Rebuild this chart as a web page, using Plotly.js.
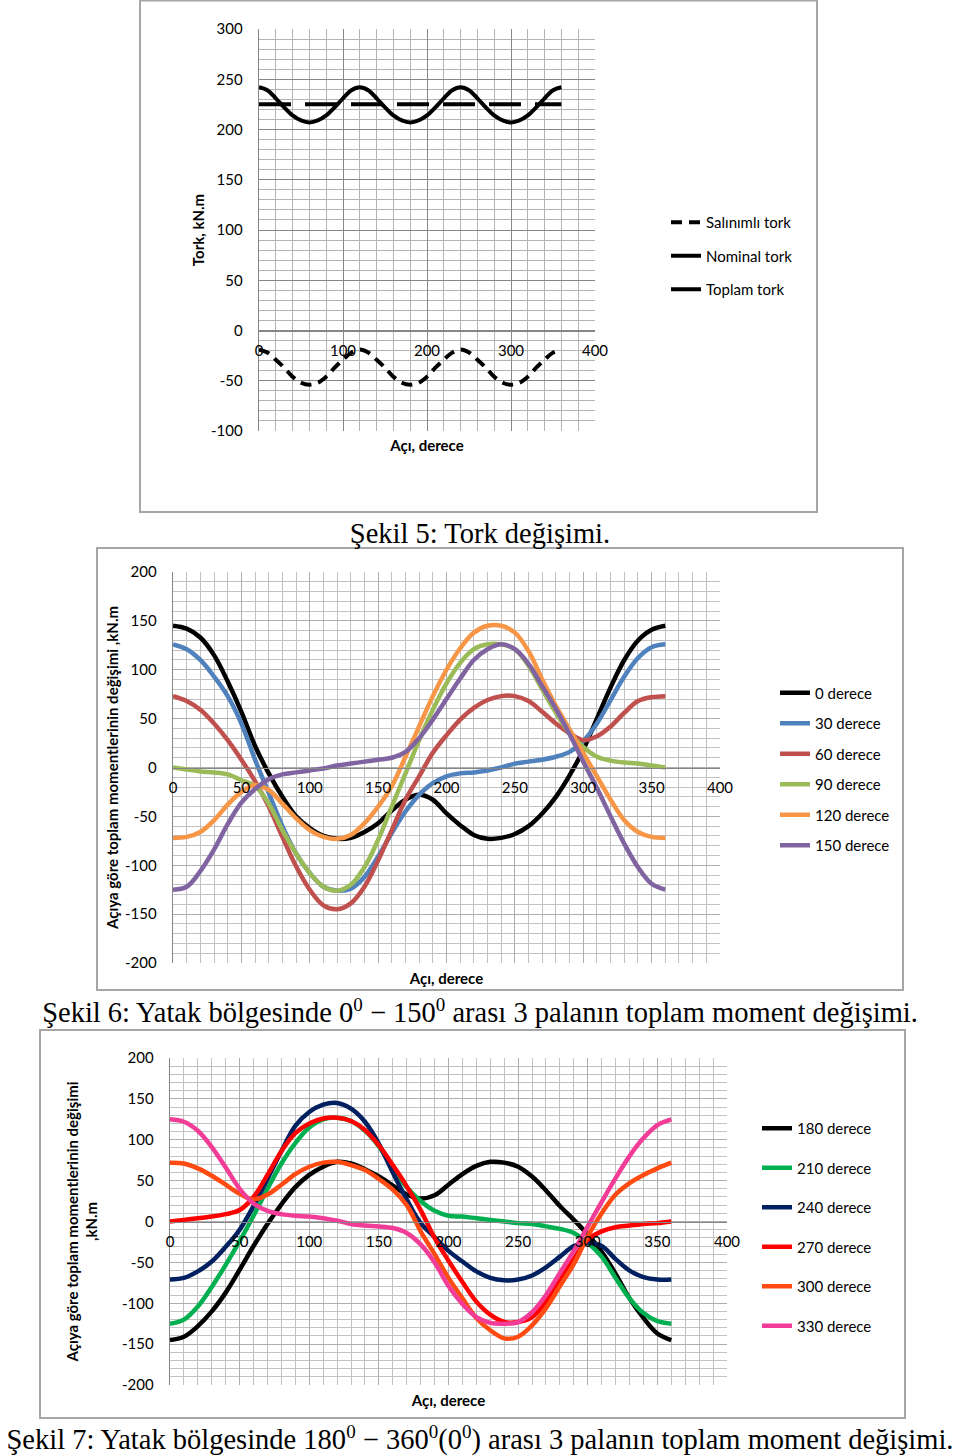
<!DOCTYPE html>
<html>
<head>
<meta charset="utf-8">
<script src="https://cdn.plot.ly/plotly-3.0.1.min.js"></script>
<style>
html,body{margin:0;padding:0;background:#fff;}
#wrap{position:relative;width:960px;height:1456px;overflow:hidden;}
#chart{position:absolute;left:0;top:0;width:960px;height:1456px;}
.cap{position:absolute;left:0;width:960px;text-align:center;white-space:nowrap;
  font-family:'Liberation Serif','DejaVu Serif',serif;font-size:28.5px;line-height:32px;color:#000;}
.cap sup{font-size:19px;line-height:0;vertical-align:0;position:relative;top:-11px;}
</style>
</head>
<body>
<div id="wrap">
<div id="chart"></div>
<div class="cap" id="cap5" style="top:518px"></div>
<div class="cap" id="cap6" style="top:997px"></div>
<div class="cap" id="cap7" style="top:1424px"></div>
</div>
<script>
// ---------- DATA ----------
const theta = [0,10,20,30,40,50,60,70,80,90,100,110,120,130,140,150,160,170,180,190,200,210,220,230,240,250,260,270,280,290,300,310,320,330,340,350,360];

// Şekil 5
const torkNames = ["Salınımlı tork", "Nominal tork", "Toplam tork"];
const salinimliTork = [-19,-22,-29,-37,-46,-52,-54,-52,-46,-37,-29,-22,-19,-22,-29,-37,-46,-52,-54,-52,-46,-37,-29,-22,-19,-22,-29,-37,-46,-52,-54,-52,-46,-37,-29,-22,-19];
const nominalTork = [225,225,225,225,225,225,225,225,225,225,225,225,225,225,225,225,225,225,225,225,225,225,225,225,225,225,225,225,225,225,225,225,225,225,225,225,225];
const toplamTork = [242,239,231,222,214,209,207,209,214,222,231,239,242,239,231,222,214,209,207,209,214,222,231,239,242,239,231,222,214,209,207,209,214,222,231,239,242];

// Şekil 6
const names6 = ["0 derece","30 derece","60 derece","90 derece","120 derece","150 derece"];
const m0   = [145,142,133,115,88,57,22,-6,-30,-50,-62,-70,-73,-72,-66,-57,-44,-33,-28,-33,-47,-59,-69,-73,-72,-68,-60,-47,-30,-8,18,50,82,110,130,141,145];
const m30  = [126,121,110,93,73,45,8,-26,-60,-88,-108,-122,-126,-124,-112,-91,-67,-45,-28,-16,-9,-6,-5,-3,0,4,6,8,11,16,27,45,69,93,112,123,126];
const m60  = [73,68,59,45,28,8,-14,-40,-71,-101,-125,-141,-145,-139,-122,-95,-64,-33,-9,15,33,49,61,69,73,73,68,57,45,35,28,32,42,56,68,72,73];
const m90  = [0,-2,-4,-5,-7,-13,-19,-37,-64,-88,-108,-122,-126,-120,-102,-74,-40,-6,28,59,86,107,121,126,126,121,104,80,56,35,21,11,7,5,4,2,0];
const m120 = [-72,-71,-66,-54,-38,-25,-18,-23,-37,-52,-64,-71,-73,-69,-57,-40,-19,11,42,73,100,122,138,145,145,138,119,90,63,39,15,-9,-33,-54,-66,-71,-72];
const m150 = [-125,-122,-106,-84,-58,-36,-22,-12,-7,-5,-3,-1,2,4,6,8,10,16,30,49,70,91,110,121,126,121,106,83,60,34,6,-21,-50,-78,-102,-119,-125];

// Şekil 7
const names7 = ["180 derece","210 derece","240 derece","270 derece","300 derece","330 derece"];
const m180 = [-145,-141,-128,-110,-87,-59,-30,-3,21,42,57,67,73,71,64,55,44,33,28,32,45,58,68,73,72,67,55,38,19,2,-16,-37,-64,-94,-118,-137,-145];
const m210 = [-125,-120,-104,-80,-53,-24,7,40,71,96,115,125,127,123,111,92,65,42,25,13,7,6,4,2,0,-2,-3,-6,-9,-14,-26,-43,-69,-94,-112,-122,-125];
const m240 = [-71,-69,-61,-49,-31,-10,19,52,86,117,134,143,145,138,122,95,60,27,-2,-19,-36,-49,-61,-69,-72,-71,-66,-56,-43,-30,-26,-30,-46,-60,-68,-71,-71];
const m270 = [0,2,4,6,9,14,30,57,86,108,120,126,127,123,112,93,69,43,14,-20,-48,-74,-98,-114,-123,-123,-117,-98,-72,-46,-22,-12,-7,-5,-3,-2,0];
const m300 = [72,71,65,56,45,34,27,33,45,58,67,72,73,69,63,52,39,20,-12,-40,-69,-94,-118,-133,-143,-141,-127,-106,-79,-52,-18,10,33,47,57,65,72];
const m330 = [125,122,111,91,66,40,22,13,9,7,6,4,1,-3,-5,-6,-8,-14,-28,-50,-79,-101,-117,-124,-125,-123,-111,-90,-63,-36,-6,24,53,80,102,118,125];

// tick values and labels
const xTicks5 = [0,100,200,300,400];
const xTickText5 = ["0","100","200","300","400"];
const yTicks5 = [-100,-50,0,50,100,150,200,250,300];
const yTickText5 = ["-100","-50","0","50","100","150","200","250","300"];
const xTicks67 = [0,50,100,150,200,250,300,350,400];
const xTickText67 = ["0","50","100","150","200","250","300","350","400"];
const yTicks67 = [-200,-150,-100,-50,0,50,100,150,200];
const yTickText67 = ["-200","-150","-100","-50","0","50","100","150","200"];

const xTitle = "Açı, derece";
const yTitle5 = "Tork, kN.m";
const yTitle6 = "Açıya göre toplam momentlerinin değişimi ,kN.m";
const yTitle7 = "Açıya göre toplam momentlerinin değişimi<br>,kN.m";
const caption5 = "Şekil 5: Tork değişimi.";
const caption6 = "Şekil 6: Yatak bölgesinde 0<sup>0</sup> − 150<sup>0</sup> arası 3 palanın toplam moment değişimi.";
const caption7 = "Şekil 7: Yatak bölgesinde 180<sup>0</sup> − 360<sup>0</sup>(0<sup>0</sup>) arası 3 palanın toplam moment değişimi.";

document.getElementById("cap5").innerHTML = caption5;
document.getElementById("cap6").innerHTML = caption6;
document.getElementById("cap7").innerHTML = caption7;

// ---------- STYLE / LAYOUT ----------
const W = 960, H = 1456;
const px = v => v / W;
const py = v => 1 - v / H;
const FONT = "Lato, 'Open Sans', sans-serif";

const colors6 = ["#000000","#4f81bd","#c0504d","#9bbb59","#f79646","#8064a2"];
const colors7 = ["#000000","#00b050","#002060","#ff0000","#ff4a12","#f23d98"];

const traces = [];
const torkData = [salinimliTork, nominalTork, toplamTork];
const torkDash = ["11px,7px", "32px,14px", "solid"];
torkData.forEach((d, i) => traces.push({
  type: "scatter", mode: "lines", x: theta, y: d, name: torkNames[i],
  xaxis: "x", yaxis: "y", legend: "legend", legendgroup: "a" + i,
  line: {color: "#000", width: 4, dash: torkDash[i], shape: "spline"}
}));
[m0, m30, m60, m90, m120, m150].forEach((d, i) => traces.push({
  type: "scatter", mode: "lines", x: theta, y: d, name: names6[i],
  xaxis: "x2", yaxis: "y2", legend: "legend2", legendgroup: "b" + i,
  line: {color: colors6[i], width: 4.5, shape: "spline"}
}));
[m180, m210, m240, m270, m300, m330].forEach((d, i) => traces.push({
  type: "scatter", mode: "lines", x: theta, y: d, name: names7[i],
  xaxis: "x3", yaxis: "y3", legend: "legend3", legendgroup: "c" + i,
  line: {color: colors7[i], width: 4.5, shape: "spline"}
}));

const titleFont = {family: FONT, size: 15, color: "#000", weight: "bold"};

function axes(xd, yd, xr, yr, xtv, xtt, xmin, ytv, ytt, ymin, major, minor, yAnchor, xt, xso, yt, yso) {
  const yDom = [py(yd[1]), py(yd[0])];
  const pos = yDom[0] + (0 - yr[0]) / (yr[1] - yr[0]) * (yDom[1] - yDom[0]);
  const x = {
    domain: [px(xd[0]), px(xd[1])], range: xr, anchor: "free", position: pos,
    tickmode: "array", tickvals: xtv, ticktext: xtt,
    showgrid: true, gridcolor: major, gridwidth: 1,
    minor: {tickmode: "linear", dtick: xmin, tick0: 0, showgrid: true, gridcolor: minor, gridwidth: 1},
    showline: true, linecolor: "#868686", linewidth: 1.3, zeroline: false,
    ticks: "", ticklabelstandoff: 6, tickfont: {family: FONT, size: 15, color: "#000"},
    title: {text: xt, font: titleFont, standoff: xso},
    automargin: false, fixedrange: true
  };
  const y = {
    domain: yDom, range: yr, anchor: yAnchor,
    tickmode: "array", tickvals: ytv, ticktext: ytt,
    showgrid: true, gridcolor: major, gridwidth: 1,
    minor: {tickmode: "linear", dtick: ymin, tick0: 0, showgrid: true, gridcolor: minor, gridwidth: 1},
    showline: true, linecolor: "#868686", linewidth: 1.3, zeroline: false,
    ticks: "", ticklabelstandoff: 12, tickfont: {family: FONT, size: 15, color: "#000"},
    title: {text: yt, font: titleFont, standoff: yso},
    automargin: false, fixedrange: true
  };
  return [x, y];
}

const [x1, y1] = axes([259, 595], [29, 431], [0, 400], [-100, 300], xTicks5, xTickText5, 20, yTicks5, yTickText5, 10, "#878787", "#b4b4b4", "x", xTitle, 82, yTitle5, 2);
const [x2, y2] = axes([173, 720], [572, 963], [0, 400], [-200, 200], xTicks67, xTickText67, 10, yTicks67, yTickText67, 10, "#adadad", "#c2c2c2", "x2", xTitle, 178, yTitle6, 2);
const [x3, y3] = axes([170, 727], [1058, 1385], [0, 400], [-200, 200], xTicks67, xTickText67, 10, yTicks67, yTickText67, 10, "#adadad", "#c2c2c2", "x3", xTitle, 146, yTitle7, 20);

const legendBase = {
  bgcolor: "rgba(0,0,0,0)", borderwidth: 0, xanchor: "left", yanchor: "middle",
  traceorder: "grouped", font: {family: FONT, size: 15, color: "#000"}
};

const layout = {
  width: W, height: H, autosize: false,
  margin: {l: 0, r: 0, t: 0, b: 0, pad: 0},
  paper_bgcolor: "#fff", plot_bgcolor: "#fff",
  showlegend: true,
  xaxis: x1, yaxis: y1, xaxis2: x2, yaxis2: y2, xaxis3: x3, yaxis3: y3,
  legend: Object.assign({}, legendBase, {x: px(666), y: py(256), tracegroupgap: 11}),
  legend2: Object.assign({}, legendBase, {x: px(775), y: py(769), tracegroupgap: 8}),
  legend3: Object.assign({}, legendBase, {x: px(757), y: py(1227), tracegroupgap: 17}),
  shapes: [
    {type: "rect", xref: "paper", yref: "paper", x0: px(140), x1: px(817), y0: py(512), y1: py(0.5), line: {color: "#a6a6a6", width: 2}},
    {type: "rect", xref: "paper", yref: "paper", x0: px(97), x1: px(903), y0: py(990), y1: py(548), line: {color: "#a6a6a6", width: 2}},
    {type: "rect", xref: "paper", yref: "paper", x0: px(40), x1: px(905), y0: py(1418), y1: py(1030), line: {color: "#a6a6a6", width: 2}}
  ]
};

Plotly.newPlot("chart", traces, layout, {staticPlot: true, displayModeBar: false});
</script>
</body>
</html>
